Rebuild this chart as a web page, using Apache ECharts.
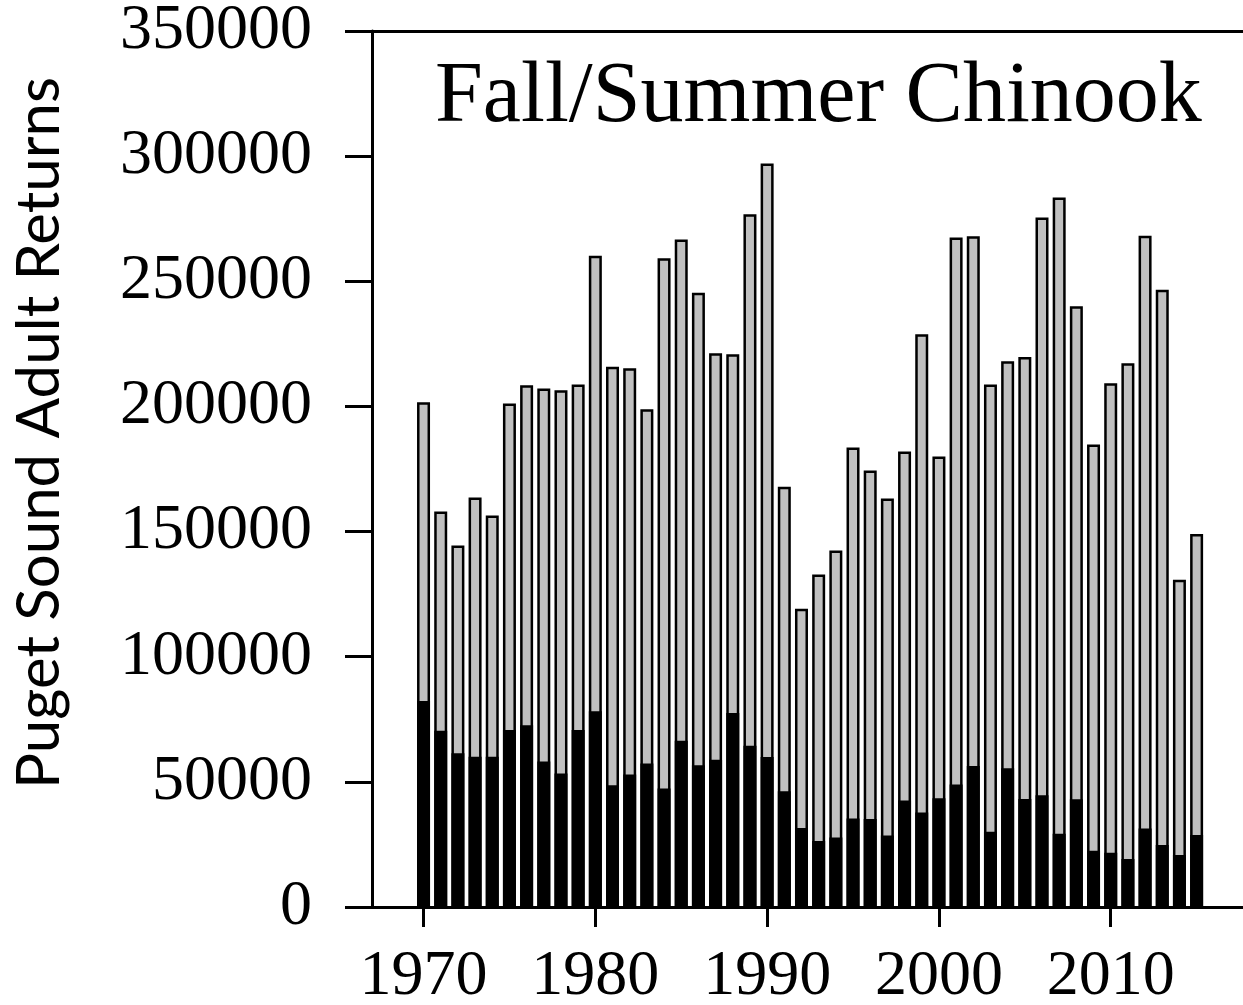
<!DOCTYPE html>
<html>
<head>
<meta charset="utf-8">
<script src="https://cdn.jsdelivr.net/npm/echarts@6/dist/echarts.min.js"></script>
<style>
  html, body { margin: 0; padding: 0; background: #fff; }
  #main { width: 1243px; height: 1005px; }
</style>
</head>
<body>
<div id="main"></div>
<script>
// years on the x axis
const years = [1970, 1971, 1972, 1973, 1974, 1975, 1976, 1977, 1978, 1979,
  1980, 1981, 1982, 1983, 1984, 1985, 1986, 1987, 1988, 1989,
  1990, 1991, 1992, 1993, 1994, 1995, 1996, 1997, 1998, 1999,
  2000, 2001, 2002, 2003, 2004, 2005, 2006, 2007, 2008, 2009,
  2010, 2011, 2012, 2013, 2014, 2015]
// total returns (top of grey bar)
const totalReturns = [201700, 158000, 144400, 163600, 156400, 201200, 208500, 207200, 206500, 208800,
  260200, 215900, 215300, 198900, 259200, 266700, 245400, 221200, 220800, 276800,
  297100, 167900, 119200, 132800, 142400, 183600, 174400, 163200, 182000, 228800,
  180000, 267500, 268000, 208800, 218100, 219700, 275500, 283500, 240000, 184800,
  209300, 217300, 268200, 246600, 130800, 149000]
// black part of each bar
const blackReturns = [82300, 70400, 61400, 60000, 60000, 70700, 72600, 58100, 53300, 70700,
  78200, 48600, 52900, 57300, 47300, 66400, 56600, 58800, 77500, 64400,
  59900, 46200, 31600, 26400, 27800, 35400, 35200, 28600, 42600, 37800,
  43500, 48900, 56300, 30100, 55400, 43200, 44600, 29300, 43100, 22500,
  21700, 19200, 31400, 24800, 20800, 28800]
const xTicks = [1970, 1980, 1990, 2000, 2010]

// grey bar runs from 0 to the total, black bar is drawn over it from 0
const totalData = years.map((y, i) => [y, totalReturns[i]])
const blackData = years.map((y, i) => [y, blackReturns[i]])

const chart = echarts.init(document.getElementById('main'), null, { renderer: 'canvas' })

const serif = 'Liberation Serif'
const option = {
  backgroundColor: '#fff',
  animation: false,
  grid: {
    left: 372,
    top: 31,
    bottom: 98,
    right: 0,
    outerBoundsMode: 'none',
    containLabel: false
  },
  xAxis: [
    {
      type: 'value',
      min: 1967,
      max: 2017.7,
      splitLine: { show: false },
      axisLine: { show: true, onZero: false, lineStyle: { color: '#000', width: 3 } },
      axisTick: {
        show: true, customValues: xTicks, length: 20,
        lineStyle: { color: '#000', width: 3 }
      },
      axisLabel: {
        customValues: xTicks, margin: 38,
        color: '#000', fontFamily: serif, fontSize: 64,
        formatter: v => String(v)
      }
    },
    {
      // top frame line only
      type: 'value',
      position: 'top',
      min: 1967,
      max: 2017.7,
      splitLine: { show: false },
      axisLine: { show: true, onZero: false, lineStyle: { color: '#000', width: 3 } },
      axisTick: { show: false },
      axisLabel: { show: false }
    }
  ],
  yAxis: {
    type: 'value',
    min: 0,
    max: 350000,
    interval: 50000,
    splitLine: { show: false },
    axisLine: { show: true, lineStyle: { color: '#000', width: 3 } },
    axisTick: { show: true, length: 27, lineStyle: { color: '#000', width: 3 } },
    axisLabel: {
      margin: 60, color: '#000', fontFamily: serif, fontSize: 64,
      formatter: v => String(v)
    }
  },
  graphic: [
    {
      type: 'text',
      x: 435, y: 98,
      style: {
        text: 'Fall/Summer Chinook',
        font: '86px "Liberation Serif"',
        fill: '#000',
        textAlign: 'left',
        textVerticalAlign: 'middle'
      }
    },
    {
      type: 'text',
      x: 40, y: 433,
      rotation: Math.PI / 2,
      style: {
        text: 'Puget Sound Adult Returns',
        font: '60px Lato',
        fill: '#000',
        textAlign: 'center',
        textVerticalAlign: 'middle'
      }
    }
  ],
  series: [
    {
      name: 'total',
      type: 'bar',
      barWidth: 13,
      barGap: '-100%',
      data: totalData,
      itemStyle: { color: '#c0c0c0', borderColor: '#000', borderWidth: 2.5 }
    },
    {
      name: 'black',
      type: 'bar',
      barWidth: 13,
      barGap: '-100%',
      data: blackData,
      itemStyle: { color: '#000', borderColor: '#000', borderWidth: 2.5 }
    }
  ]
}
chart.setOption(option)
</script>
</body>
</html>
